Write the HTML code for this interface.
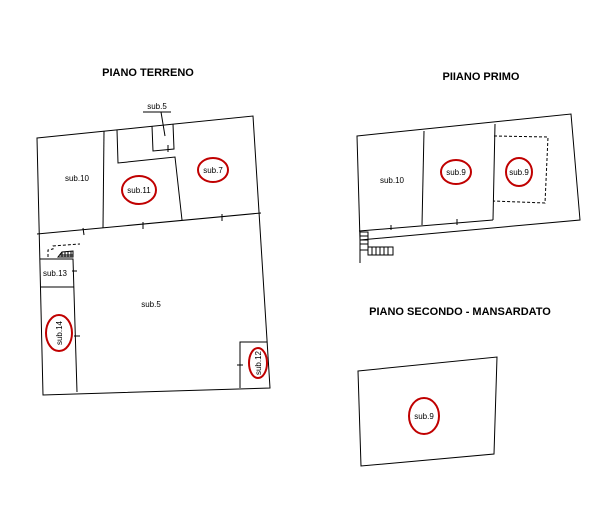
<!DOCTYPE html>
<html><head><meta charset="utf-8"><style>
html,body{margin:0;padding:0;background:#fff;width:603px;height:515px;overflow:hidden}
svg{display:block}
text{font-family:"Liberation Sans",sans-serif;fill:#000}
</style></head><body>
<svg width="603" height="515" viewBox="0 0 603 515" xmlns="http://www.w3.org/2000/svg">
<g stroke="#000" stroke-width="1" fill="none">
<polygon points="37,138 253,116 270,388 43,395"/>
<line x1="37" y1="234" x2="261" y2="213"/>
<line x1="104" y1="131" x2="103" y2="228"/>
<polyline points="117,130 118,163 175,157 182,220"/>
<polyline points="152,126 153,151 174,149 173,124"/>
<line x1="143" y1="112" x2="171" y2="112"/>
<line x1="161" y1="112" x2="165" y2="136"/>
<line x1="168" y1="145" x2="168" y2="152"/>
<polyline points="40,259 73,259 77,392"/>
<line x1="41" y1="287" x2="74" y2="287"/>
<polyline points="48,257 48,250 53,249 53,246 80,244" stroke-dasharray="3,2"/>
<line x1="72" y1="271" x2="77" y2="271"/>
<line x1="74" y1="336" x2="80" y2="336"/>
<polygon points="58,257 62,252 73,251 73,257" />
<line x1="62" y1="252" x2="62" y2="257"/><line x1="65" y1="252" x2="65" y2="257"/><line x1="68" y1="251" x2="68" y2="257"/><line x1="71" y1="251" x2="71" y2="257"/>
<line x1="60" y1="255" x2="73" y2="255"/>
<polyline points="240,388 240,342 267,342"/>
<line x1="237" y1="365" x2="243" y2="365"/>
<line x1="83" y1="228" x2="84" y2="235"/>
<line x1="143" y1="222" x2="143" y2="229"/>
<line x1="222" y1="214" x2="222" y2="221"/>
<polygon points="357,136 571,114 580,220 360,240"/>
<line x1="360" y1="240" x2="360" y2="263"/>
<line x1="359" y1="231" x2="493" y2="220"/>
<line x1="424" y1="131" x2="422" y2="225"/>
<line x1="495" y1="124" x2="493" y2="220"/>
<polyline points="494,136 548,137 545,203 493,201" stroke-dasharray="3,2"/>
<line x1="391" y1="225" x2="391" y2="230"/>
<line x1="457" y1="219" x2="457" y2="225"/>
<rect x="360" y="232" width="8" height="18"/>
<line x1="360" y1="236" x2="368" y2="236"/><line x1="360" y1="240" x2="368" y2="240"/><line x1="360" y1="244" x2="368" y2="244"/>
<rect x="368" y="247" width="25" height="8"/>
<line x1="372" y1="247" x2="372" y2="255"/><line x1="376" y1="247" x2="376" y2="255"/><line x1="380" y1="247" x2="380" y2="255"/><line x1="384" y1="247" x2="384" y2="255"/><line x1="388" y1="247" x2="388" y2="255"/>
<polygon points="358,371 497,357 494,454 361,466"/>
</g>
<g stroke="#c00000" stroke-width="2" fill="none">
<ellipse cx="139" cy="190" rx="17" ry="14"/>
<ellipse cx="213" cy="170" rx="15" ry="12"/>
<ellipse cx="59" cy="333" rx="13" ry="18"/>
<ellipse cx="258" cy="363" rx="9" ry="15"/>
<ellipse cx="456" cy="172" rx="15" ry="12"/>
<ellipse cx="519" cy="172" rx="13" ry="14"/>
<ellipse cx="424" cy="416" rx="15" ry="18"/>
</g>
<g font-size="8" text-anchor="middle">
<text x="157" y="109">sub.5</text>
<text x="77" y="181">sub.10</text>
<text x="139" y="193">sub.11</text>
<text x="213" y="173">sub.7</text>
<text x="55" y="276">sub.13</text>
<text x="151" y="307">sub.5</text>
<text transform="translate(62,333) rotate(-90)">sub.14</text>
<text transform="translate(261,363) rotate(-90)">sub.12</text>
<text x="392" y="183">sub.10</text>
<text x="456" y="175">sub.9</text>
<text x="519" y="175">sub.9</text>
<text x="424" y="419">sub.9</text>
</g>
<g font-size="11" font-weight="bold" text-anchor="middle">
<text x="148" y="76">PIANO TERRENO</text>
<text x="481" y="80">PIIANO PRIMO</text>
<text x="460" y="315">PIANO SECONDO - MANSARDATO</text>
</g>
</svg>
</body></html>
